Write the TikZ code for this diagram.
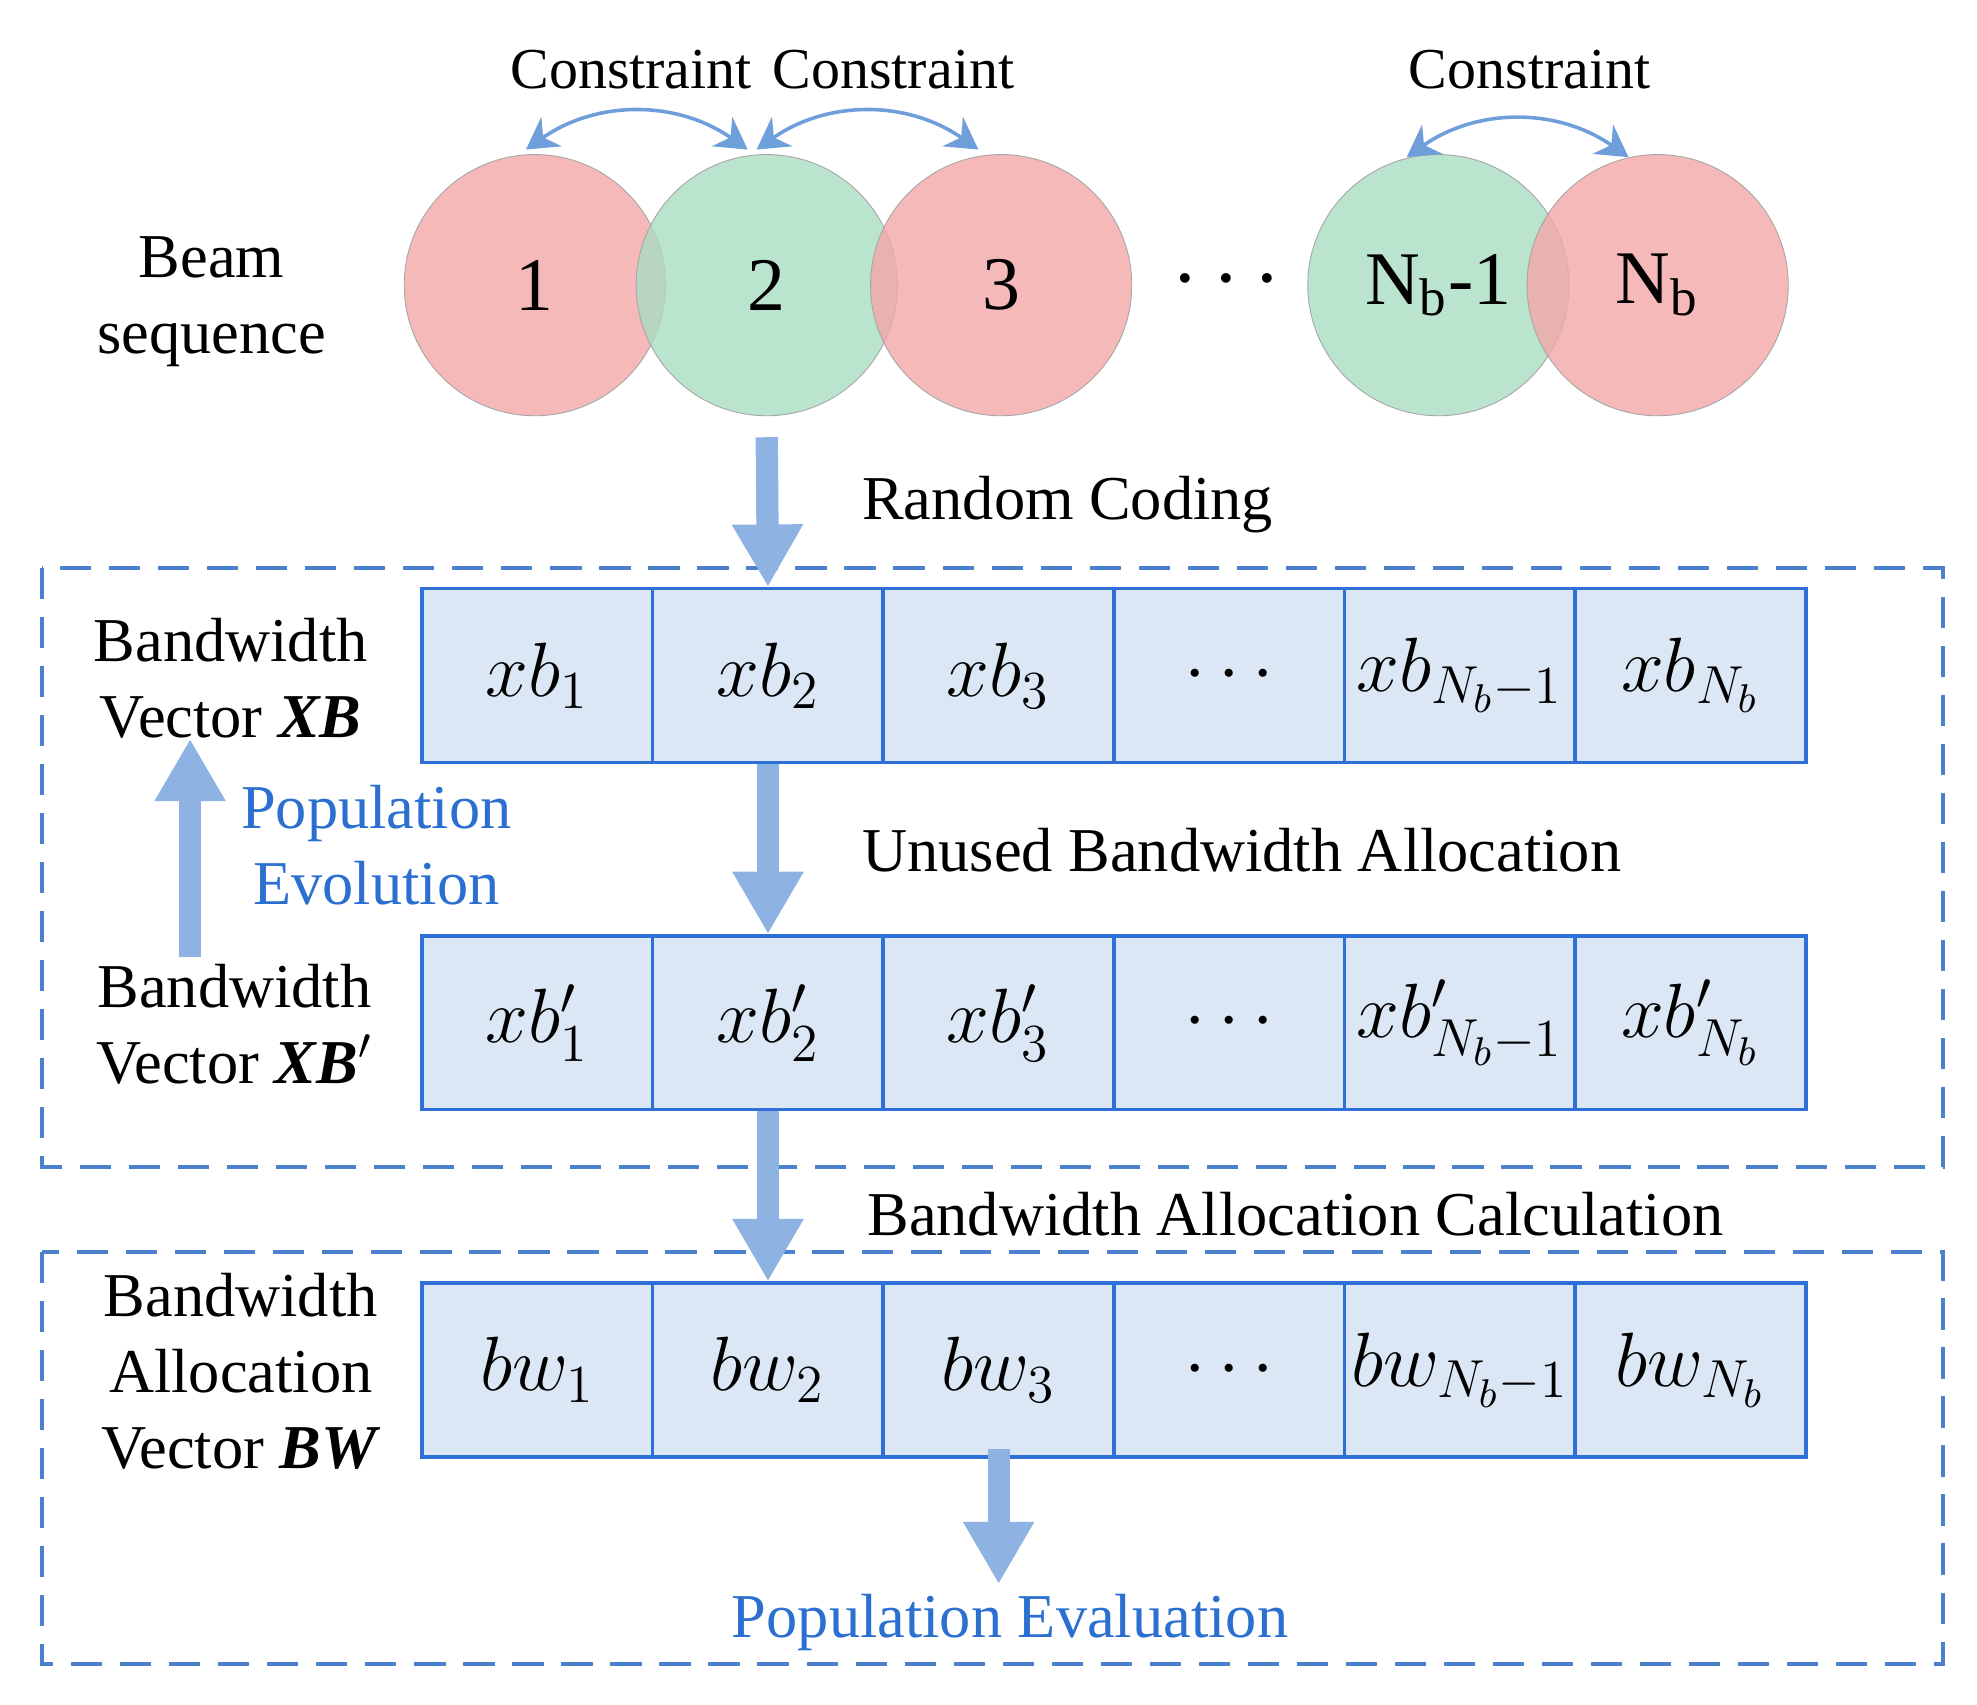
\documentclass[tikz,border=0pt]{standalone}
\usepackage{fontspec}
\setmainfont{Liberation Serif}
\usetikzlibrary{arrows.meta}
\definecolor{fatc}{HTML}{8EB2E2}
\definecolor{cellf}{HTML}{DCE7F6}
\definecolor{celld}{HTML}{2F6FD8}
\definecolor{boxc}{HTML}{4A80CC}
\definecolor{consc}{HTML}{6F9FDB}
\definecolor{bluet}{HTML}{2B70D0}
\definecolor{redc}{HTML}{F4A7A7}
\definecolor{grnc}{HTML}{A9DDC2}
\begin{document}
\begin{tikzpicture}[x=0.01cm,y=-0.01cm,
  every node/.style={font=\fontsize{14}{17}\selectfont},
  red/.style={circle,minimum size=2.06cm,fill=redc,draw=black!35,very thin,fill opacity=0.8,text opacity=1,font=\fontsize{17}{19}\selectfont},
  grn/.style={red,fill=grnc},
  cell/.style={draw=celld,thick,fill=cellf,minimum width=1.82cm,minimum height=1.37cm,inner sep=0pt,font=\fontsize{18}{21}\selectfont},
  fat/.style={draw=fatc,line width=5pt,-{Triangle[width=15pt,length=14pt]}},
  cons/.style={draw=consc,thick,{Stealth[width=8pt,length=7pt]}-{Stealth[width=8pt,length=7pt]}},
  box/.style={draw=boxc,thick,dash pattern=on 7pt off 4pt},
  ctext/.style={font=\fontsize{13}{15}\selectfont},
  blu/.style={text=bluet}]
\useasboundingbox (0,0) rectangle (1560,1345);
\node[red] (c1) at (422,225) {1};
\node[grn] (c2) at (605,225) {2};
\node[red] (c3) at (790,225) {3};
\node[grn] (c4) at (1135,225) {N\textsubscript{b}-1};
\node[red] (c5) at (1308,225) {N\textsubscript{b}};
\node (dots) at (968,222) {\fontsize{20}{20}\selectfont\textbf{$\cdots$}};
\node[align=center] (beam) at (167,238) {Beam\\sequence};
\node[ctext] (k1) at (498,55) {Constraint};
\node[ctext] (k2) at (705,55) {Constraint};
\node[ctext] (k3) at (1207,55) {Constraint};
\coordinate (a1) at (415,118); \coordinate (a2) at (590,118);
\coordinate (a3) at (597,118); \coordinate (a4) at (772,118);
\coordinate (a5) at (1110,124); \coordinate (a6) at (1285,124);
\draw[cons] (a1) to[bend left=35] (a2);
\draw[cons] (a3) to[bend left=35] (a4);
\draw[cons] (a5) to[bend left=35] (a6);
\draw[box] (33,448) rectangle (1533,921);
\draw[box] (33,988) rectangle (1533,1313);
\foreach \i/\t/\u/\v in {1/{xb_1}/{xb'_1}/{bw_1},2/{xb_2}/{xb'_2}/{bw_2},3/{xb_3}/{xb'_3}/{bw_3},4/{\cdots}/{\cdots}/{\cdots},5/{xb_{N_b-1}}/{xb'_{N_b-1}}/{bw_{N_b-1}},6/{xb_{N_b}}/{xb'_{N_b}}/{bw_{N_b}}}{
  \node[cell] (r1\i) at ({333+182*(\i-0.5)},533) {$\t$};
  \node[cell] (r2\i) at ({333+182*(\i-0.5)},807) {$\u$};
  \node[cell] (r3\i) at ({333+182*(\i-0.5)},1081) {$\v$};
}
\node[align=center] (l1) at (182,535) {Bandwidth\\Vector \textbf{\textit{XB}}};
\node[align=center] (l2) at (185,808) {Bandwidth\\Vector \textbf{\textit{XB$'$}}};
\node[align=center] (l3) at (190,1082) {Bandwidth\\Allocation\\Vector \textbf{\textit{BW}}};
\coordinate (s0) at (605,345);
\draw[fat] (s0) -- (r12.north);
\draw[fat] (r12.south) -- (r22.north);
\draw[fat] (r22.south) -- (r32.north);
\coordinate (pe) at (788,1250);
\draw[fat] (788,1143) -- (pe);
\coordinate (u0) at (150,755); \coordinate (u1) at (150,583);
\draw[fat] (u0) -- (u1);
\node[anchor=west] (t1) at (668,398) {Random Coding};
\node[anchor=west] (t2) at (668,671) {Unused Bandwidth Allocation};
\node[anchor=west] (t3) at (672,958) {Bandwidth Allocation Calculation};
\node[blu,align=center] (pev) at (297,667) {Population\\Evolution};
\node[blu] (pen) at (797,1280) {Population Evaluation};
\end{tikzpicture}
\end{document}
